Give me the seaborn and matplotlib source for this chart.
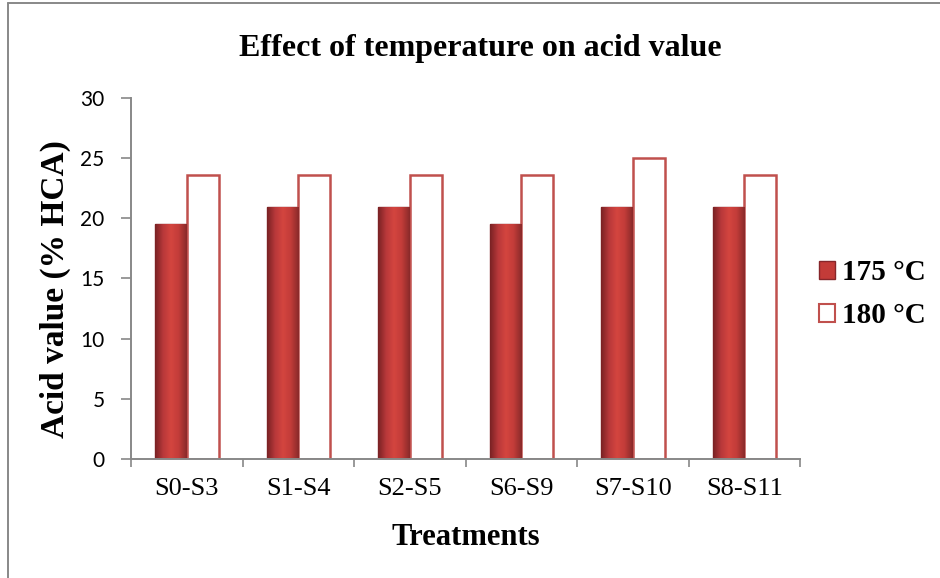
import numpy as np
import seaborn as sns
import pandas as pd
import matplotlib.pyplot as plt
from matplotlib.colors import LinearSegmentedColormap
from matplotlib.patches import Patch
from matplotlib.lines import Line2D

treatments = ["S0-S3", "S1-S4", "S2-S5", "S6-S9", "S7-S10", "S8-S11"]
acid_175 = [19.5, 20.9, 20.9, 19.5, 20.9, 20.9]
acid_180 = [23.6, 23.6, 23.6, 23.6, 25.0, 23.6]
series = ["175 °C", "180 °C"]

df = pd.DataFrame({
    "Treatment": treatments * 2,
    "Acid": acid_175 + acid_180,
    "Temp": [series[0]] * len(treatments) + [series[1]] * len(treatments),
})

sns.set_theme(style="white")
serif = ["Liberation Serif", "DejaVu Serif"]
plt.rcParams["font.family"] = ["Lato", "DejaVu Sans"]
plt.rcParams["text.color"] = "black"
plt.rcParams["axes.labelcolor"] = "black"
plt.rcParams["xtick.labelcolor"] = "black"
plt.rcParams["ytick.labelcolor"] = "black"

fig = plt.figure(figsize=(9.4, 5.78), dpi=100)
ax = fig.add_axes([0.1394, 0.2059, 0.7117, 0.6246])

red_face, red_edge = "#C33B38", "#86262A"
sns.barplot(data=df, x="Treatment", y="Acid", hue="Temp", order=treatments,
            hue_order=series, palette=[red_face, "white"], width=0.57,
            saturation=1, ax=ax, legend=False)

# shaded look for the filled bars: dark sides, lighter middle
shade = LinearSegmentedColormap.from_list(
    "bar", ["#7A2224", "#B8383A", "#D4453F", "#C23C39", "#8A2A2A"])
grad = np.linspace(0, 1, 64).reshape(1, -1)
for patch in ax.containers[0]:
    patch.set_edgecolor(red_edge)
    patch.set_linewidth(1.0)
    x0, w, h = patch.get_x(), patch.get_width(), patch.get_height()
    img = ax.imshow(grad, cmap=shade, aspect="auto", extent=(x0, x0 + w, 0, h),
                    zorder=patch.get_zorder() + 0.1)
    img.set_clip_path(patch)
for patch in ax.containers[1]:
    patch.set_facecolor("white")
    patch.set_edgecolor("#C0504D")
    patch.set_linewidth(1.8)

ax.set_ylim(0, 30)
ax.set_xlim(-0.5, 5.5)
ax.set_yticks(range(0, 31, 5))
ax.tick_params(axis="y", labelsize=15, length=7, width=1.2, color="#888888",
               direction="out", left=True, pad=12)
ax.tick_params(axis="x", which="major", length=0, pad=14)
for lab in ax.get_xticklabels():
    lab.set_family(serif)
    lab.set_fontsize(19)
ax.set_xticks([i - 0.5 for i in range(len(treatments) + 1)], minor=True)
ax.tick_params(axis="x", which="minor", length=6, width=1.2, color="#888888",
               direction="out", bottom=True)

for side in ["top", "right"]:
    ax.spines[side].set_visible(False)
for side in ["left", "bottom"]:
    ax.spines[side].set_color("#888888")
    ax.spines[side].set_linewidth(1.4)

ax.set_xlabel("Treatments", fontsize=22, fontweight="bold", family=serif, labelpad=16)
ax.set_ylabel("Acid value (% HCA)", fontsize=24, fontweight="bold", family=serif)
ax.yaxis.set_label_coords(-0.1136, 0.47)
ax.yaxis.label.set_va("center")
fig.text(480 / 940, 1 - 56 / 578, "Effect of temperature on acid value", ha="center",
         va="baseline", fontsize=23, fontweight="bold", family=serif)

handles = [Patch(facecolor=red_face, edgecolor=red_edge, linewidth=1.0),
           Patch(facecolor="white", edgecolor="#C0504D", linewidth=1.5)]
fig.legend(handles, series, loc="center left", bbox_to_anchor=(0.871, 0.491),
           frameon=False, handlelength=0.55, handleheight=0.55, handletextpad=0.25,
           labelspacing=0.55, borderpad=0, borderaxespad=0,
           prop={"family": serif, "weight": "bold", "size": 21})

# partial frame of the original chart area (left and top only)
fig.lines.append(Line2D([8 / 940, 8 / 940], [0, 1 - 3 / 578], transform=fig.transFigure,
                        color="#888888", linewidth=1.4))
fig.lines.append(Line2D([8 / 940, 1], [1 - 3 / 578, 1 - 3 / 578], transform=fig.transFigure,
                        color="#888888", linewidth=1.4))

fig.savefig("out.png", dpi=100)
